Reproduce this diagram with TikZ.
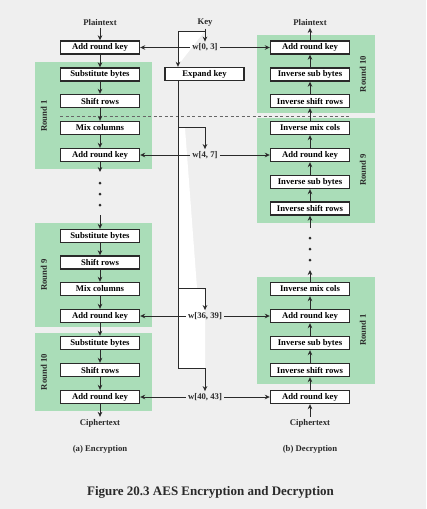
\documentclass[tikz,border=0pt]{standalone}
\usepackage{fontspec}
\setmainfont{Liberation Serif}
\usetikzlibrary{arrows.meta}
\definecolor{bgc}{HTML}{EFEFEF}
\definecolor{grc}{HTML}{AADDB8}
\definecolor{lnc}{HTML}{2A2A2A}
\begin{document}
\begin{tikzpicture}[x=1pt,y=-1pt,
 box/.style={draw=lnc,line width=1.4pt,fill=white,minimum width=79pt,minimum height=13pt,inner sep=0pt,font=\fontsize{8.7}{10}\selectfont\bfseries},
 lbl/.style={font=\fontsize{8.7}{10}\selectfont\bfseries,inner sep=2pt,text=lnc},
 arr/.style={draw=lnc,line width=1pt,-{Stealth[length=5pt,width=4.6pt]}},
 plain/.style={draw=lnc,line width=1pt},
 grn/.style={fill=grc},
 rlab/.style={font=\fontsize{8.7}{10}\selectfont\bfseries,rotate=90,text=lnc},
 dotc/.style={fill=lnc,circle,inner sep=0pt,minimum size=3pt}
]
\fill[bgc] (0,0) rectangle (426,509);
\useasboundingbox (0,0) rectangle (426,509);
% white wedges
\fill[white] (179,32) -- (204,32) -- (179,64) -- cycle;
\fill[white] (179,128) -- (185,128) -- (197,288) -- (205,290) -- (205,368) -- (179,368) -- cycle;
% green round regions
\fill[grn] (35,62) rectangle (152,169);
\fill[grn] (35,223) rectangle (152,327);
\fill[grn] (35,333) rectangle (152,411);
\fill[grn] (257,35) rectangle (375,113);
\fill[grn] (257,118) rectangle (375,223);
\fill[grn] (257,277) rectangle (375,384);
\node[rlab] (lr1) at (44,116) {Round 1};
\node[rlab] (lr9) at (44,275) {Round 9};
\node[rlab] (lr10) at (44,372) {Round 10};
\node[rlab] (rr10) at (363,74) {Round 10};
\node[rlab] (rr9) at (363,170) {Round 9};
\node[rlab] (rr1) at (363,330) {Round 1};
% dashed separator
\coordinate (dsL) at (60,116);
\coordinate (dsR) at (350,116);
\draw[draw=gray!80!black,line width=0.9pt,dash pattern=on 3pt off 2.5pt] (dsL) -- (dsR);
% encryption column
\node[lbl] (pl) at (100,22.7) {Plaintext};
\node[box] (a0) at (100,47.5) {Add round key};
\node[box] (s1) at (100,74.5) {Substitute bytes};
\node[box] (r1) at (100,101) {Shift rows};
\node[box] (m1) at (100,128) {Mix columns};
\node[box] (a1) at (100,155) {Add round key};
\node[box] (s9) at (100,236) {Substitute bytes};
\node[box] (r9) at (100,262.5) {Shift rows};
\node[box] (m9) at (100,289) {Mix columns};
\node[box] (a9) at (100,316) {Add round key};
\node[box] (s10) at (100,343) {Substitute bytes};
\node[box] (r10) at (100,370) {Shift rows};
\node[box] (a10) at (100,397) {Add round key};
\node[lbl] (ct) at (100,423) {Ciphertext};
\node[lbl] (capa) at (100,449) {(a) Encryption};
\draw[arr] (pl) -- (a0);
\draw[arr] (a0) -- (s1);
\draw[arr] (s1) -- (r1);
\draw[arr] (r1) -- (m1);
\draw[arr] (m1) -- (a1);
\coordinate (le1) at (100,172);
\coordinate (ls9) at (100,215);
\draw[arr] (a1.south) -- (le1);
\node[dotc] (ld1) at (100,183) {};
\node[dotc] (ld2) at (100,194) {};
\node[dotc] (ld3) at (100,205) {};
\draw[arr] (ls9) -- (s9.north);
\draw[arr] (s9) -- (r9);
\draw[arr] (r9) -- (m9);
\draw[arr] (m9) -- (a9);
\draw[arr] (a9) -- (s10);
\draw[arr] (s10) -- (r10);
\draw[arr] (r10) -- (a10);
\draw[arr] (a10) -- (ct);
% decryption column
\node[lbl] (ptr) at (310,22.7) {Plaintext};
\node[box] (b0) at (310,47.5) {Add round key};
\node[box] (is10) at (310,74.5) {Inverse sub bytes};
\node[box] (ir10) at (310,101) {Inverse shift rows};
\node[box] (im9) at (310,128) {Inverse mix cols};
\node[box] (b1) at (310,155) {Add round key};
\node[box] (is9) at (310,182) {Inverse sub bytes};
\node[box] (ir9) at (310,208.5) {Inverse shift rows};
\node[box] (im1) at (310,289) {Inverse mix cols};
\node[box] (b9) at (310,316) {Add round key};
\node[box] (is1) at (310,343) {Inverse sub bytes};
\node[box] (ir1) at (310,370) {Inverse shift rows};
\node[box] (b10) at (310,397) {Add round key};
\node[lbl] (ctr) at (310,423) {Ciphertext};
\node[lbl] (capb) at (310,449) {(b) Decryption};
\draw[arr] (ctr) -- (b10);
\draw[arr] (b10) -- (ir1);
\draw[arr] (ir1) -- (is1);
\draw[arr] (is1) -- (b9);
\draw[arr] (b9) -- (im1);
\coordinate (re1) at (310,270);
\coordinate (rs9) at (310,228);
\draw[arr] (im1.north) -- (re1);
\node[dotc] (rd1) at (310,238) {};
\node[dotc] (rd2) at (310,249) {};
\node[dotc] (rd3) at (310,260) {};
\draw[arr] (rs9) -- (ir9.south);
\draw[arr] (ir9) -- (is9);
\draw[arr] (is9) -- (b1);
\draw[arr] (b1) -- (im9);
\draw[arr] (im9) -- (ir10);
\draw[arr] (ir10) -- (is10);
\draw[arr] (is10) -- (b0);
\draw[arr] (b0) -- (ptr);
% key schedule
\node[lbl] (key) at (205,22.7) {Key};
\node[lbl] (w0) at (205,47.5) {w[0, 3]};
\node[box] (ek) at (204.5,74) {Expand key};
\node[lbl] (w1) at (205,155) {w[4, 7]};
\node[lbl] (w9) at (205,316) {w[36, 39]};
\node[lbl] (w10) at (205,397) {w[40, 43]};
\coordinate (j0) at (205,31.7);
\coordinate (kL) at (178,31.7);
\coordinate (t1) at (178,127);
\coordinate (t9) at (178,288);
\coordinate (t10) at (178,368);
\draw[arr] (key) -- (w0);
\draw[arr] (j0) -- (kL) -- (ek.north -| kL);
\draw[plain] (ek.south -| kL) -- (t10);
\draw[arr] (t1) -| (w1.north);
\draw[arr] (t9) -| (w9.north);
\draw[arr] (t10) -| (w10.north);
\draw[arr] (w0.west) -- (a0.east);
\draw[arr] (w0.east) -- (b0.west);
\draw[arr] (w1.west) -- (a1.east);
\draw[arr] (w1.east) -- (b1.west);
\draw[arr] (w9.west) -- (a9.east);
\draw[arr] (w9.east) -- (b9.west);
\draw[arr] (w10.west) -- (a10.east);
\draw[arr] (w10.east) -- (b10.west);
% caption
\node[font=\fontsize{13}{15}\selectfont\bfseries,text=lnc] (title) at (210.5,492) {Figure 20.3 AES Encryption and Decryption};
\end{tikzpicture}
\end{document}
